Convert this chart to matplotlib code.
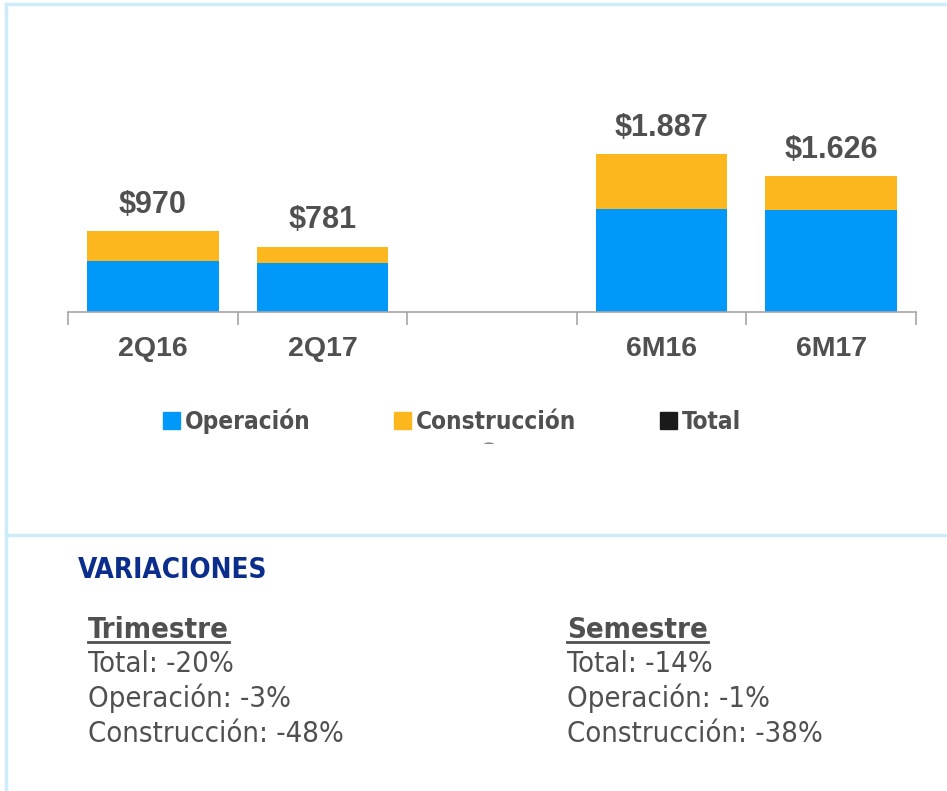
import matplotlib
matplotlib.use("Agg")
import matplotlib.pyplot as plt
from matplotlib.patches import Patch, Ellipse, Rectangle
from matplotlib.lines import Line2D
import numpy as np

# data
categories = ["2Q16", "2Q17", "", "6M16", "6M17"]
operacion = [608, 590, None, 1229, 1217]
construccion = [362, 191, None, 658, 409]
totales = ["$970", "$781", "", "$1.887", "$1.626"]

col_op = "#0099FA"
col_con = "#FDB71E"
col_txt = "#505050"
col_border = "#CDEBFB"

var_cols = ["Trimestre", "Semestre"]
var_lines = [["Total: -20%", "Operación: -3%", "Construcción: -48%"],
             ["Total: -14%", "Operación: -1%", "Construcción: -38%"]]

W, H = 947, 791
fig = plt.figure(figsize=(W / 100, H / 100), dpi=100)
fig.patch.set_facecolor("white")

def fx(px):
    return px / W

def fy(py):
    return 1 - py / H

# panel borders
for seg in [([6, 6], [4, H]), ([6, W], [4, 4]), ([6, W], [535, 535])]:
    fig.add_artist(Line2D([fx(v) for v in seg[0]], [fy(v) for v in seg[1]],
                          color=col_border, lw=2.5))

ax = fig.add_axes([fx(68), fy(312), fx(916) - fx(68), fy(12) - fy(312)])
x = np.arange(len(categories))
idx = [i for i, c in enumerate(categories) if c]
op = np.array([operacion[i] for i in idx])
con = np.array([construccion[i] for i in idx])
ax.bar(idx, op, width=0.776, color=col_op, zorder=2)
ax.bar(idx, con, bottom=op, width=0.776, color=col_con, zorder=2)
for k, i in enumerate(idx):
    ax.annotate(totales[i], (i, op[k] + con[k]), xytext=(0, 13),
                textcoords="offset points", ha="center", va="baseline",
                fontsize=22, fontweight="bold", color=col_txt,
                family="Liberation Sans")

ax.set_xlim(-0.5, len(categories) - 0.5)
ax.set_ylim(0, 300 / 0.0838)
for s in ["top", "right", "left"]:
    ax.spines[s].set_visible(False)
ax.spines["bottom"].set_color("#A6A6A6")
ax.spines["bottom"].set_linewidth(1.2)
ax.set_yticks([])
ax.set_xticks(x)
ax.set_xticklabels(categories, fontsize=20.5, fontweight="bold", color=col_txt,
                   family="Liberation Sans")
ax.tick_params(axis="x", which="major", length=0, pad=17)
ax.set_xticks(np.arange(-0.5, len(categories)), minor=True)
ax.tick_params(axis="x", which="minor", length=9, color="#A6A6A6", width=1.2)

handles = [Patch(color=col_op), Patch(color=col_con), Patch(color="#1A1A1A")]
fig.legend(handles, ["Operación", "Construcción", "Total"], loc="center",
           bbox_to_anchor=(fx(452), fy(421)), ncol=3, frameon=False,
           prop={"family": "DejaVu Sans", "stretch": "condensed", "weight": "bold", "size": 17.5},
           labelcolor=col_txt, handlelength=0.7, handleheight=0.7,
           handletextpad=0.2, columnspacing=3.45)

# small clipped grey blob under the legend
blob = Ellipse((fx(489), fy(450)), fx(16), 14 / H, color="#8C8C8C", transform=fig.transFigure)
clip = Rectangle((0, fy(444)), 1, 0.1, transform=fig.transFigure)
fig.add_artist(blob)
blob.set_clip_path(clip)

fig.text(fx(78), fy(570), "VARIACIONES", fontsize=20, fontweight="bold",
         color="#0B2D8C", family="DejaVu Sans", stretch="condensed", va="center")

fig.canvas.draw()
renderer = fig.canvas.get_renderer()
for c, (head, lines) in enumerate(zip(var_cols, var_lines)):
    x0 = [88, 567][c]
    t = fig.text(fx(x0), fy(638), head, fontsize=21, fontweight="bold", color=col_txt,
                 family="DejaVu Sans", stretch="condensed", va="baseline")
    bb = t.get_window_extent(renderer)
    fig.add_artist(Line2D([bb.x0 / W, bb.x1 / W], [fy(642), fy(642)],
                          color=col_txt, lw=2))
    for j, line in enumerate(lines):
        fig.text(fx(x0), fy(672 + 35 * j), line, fontsize=21, color=col_txt,
                 family="DejaVu Sans", stretch="condensed", va="baseline")

fig.savefig("out.png", dpi=100, facecolor="white")
